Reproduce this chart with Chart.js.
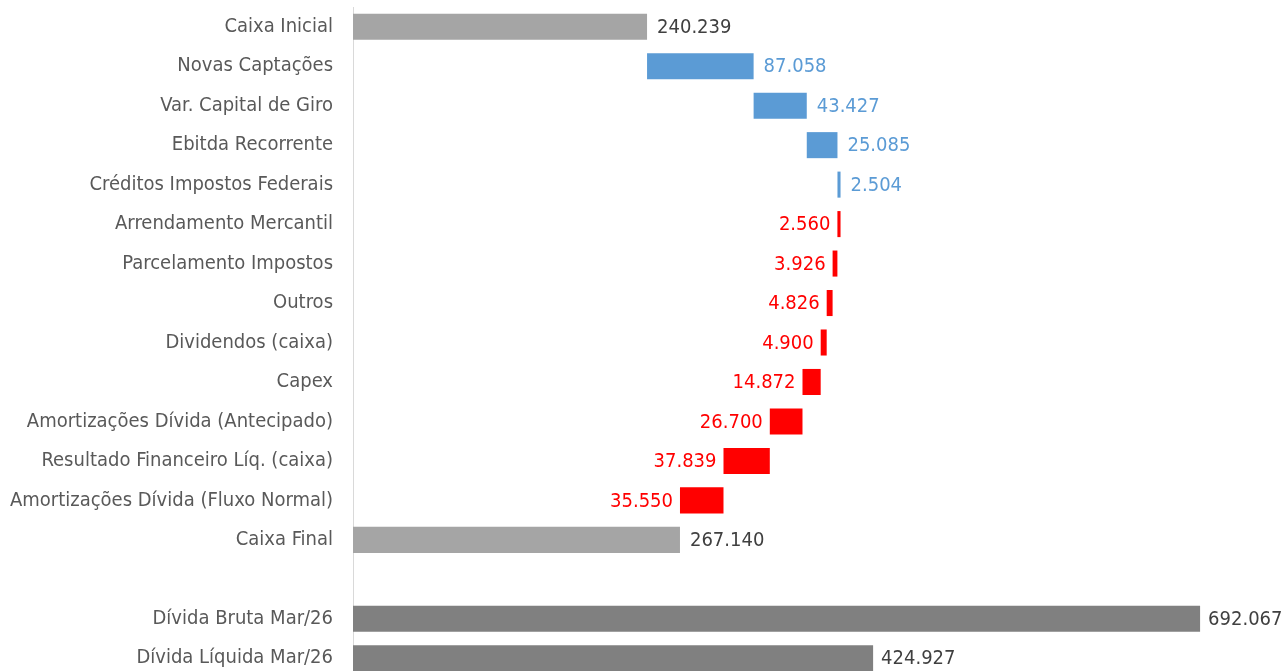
<!DOCTYPE html>
<html>
<head>
<meta charset="utf-8">
<script src="https://cdn.jsdelivr.net/npm/chart.js@4.4.1/dist/chart.umd.min.js"></script>
<style>
  html, body { margin: 0; padding: 0; background: #ffffff; overflow: hidden; }
  #wrap { width: 1282px; height: 671px; overflow: hidden; }
  canvas { display: block; }
</style>
</head>
<body>
<div id="wrap"><canvas id="c" width="1282" height="680"></canvas></div>
<script>
// ---- data ----
const categories = [
  'Caixa Inicial',
  'Novas Captações',
  'Var. Capital de Giro',
  'Ebitda Recorrente',
  'Créditos Impostos Federais',
  'Arrendamento Mercantil',
  'Parcelamento Impostos',
  'Outros',
  'Dividendos (caixa)',
  'Capex',
  'Amortizações Dívida (Antecipado)',
  'Resultado Financeiro Líq. (caixa)',
  'Amortizações Dívida (Fluxo Normal)',
  'Caixa Final',
  '',
  'Dívida Bruta Mar/26',
  'Dívida Líquida Mar/26'
];
const values = [240239, 87058, 43427, 25085, 2504, -2560, -3926, -4826, -4900, -14872, -26700, -37839, -35550, 267140, null, 692067, 424927];
const kinds  = ['total','up','up','up','up','down','down','down','down','down','down','down','down','total','gap','debt','debt'];

const barColors  = { total: '#A5A5A5', up: '#5B9BD5', down: '#FF0000', debt: '#808080', gap: 'rgba(0,0,0,0)' };
const textColors = { total: '#404040', up: '#5B9BD5', down: '#FF0000', debt: '#404040', gap: '#404040' };

// waterfall ranges built from the values
let running = 0;
const ranges = values.map((v, i) => {
  const k = kinds[i];
  if (v === null) return null;
  if (k === 'total') { running = v; return [0, v]; }
  if (k === 'debt') { return [0, v]; }
  const start = running; running += v; return [start, running];
});

function fmt(v) {
  const s = String(Math.abs(v));
  return s.replace(/\B(?=(\d{3})+(?!\d))/g, '.');
}

const FONT = "'Liberation Sans Narrow', 'DejaVu Sans Condensed', 'Liberation Sans', sans-serif";
const FSIZE = 20;

const labelPlugin = {
  id: 'valueLabels',
  afterDatasetsDraw(chart) {
    const ctx = chart.ctx;
    const meta = chart.getDatasetMeta(0);
    ctx.save();
    ctx.font = FSIZE + 'px ' + FONT;
    ctx.textBaseline = 'middle';
    meta.data.forEach((el, i) => {
      if (values[i] === null) return;
      const p = el.getProps(['x', 'y', 'base'], true);
      const left = Math.min(p.x, p.base), right = Math.max(p.x, p.base);
      ctx.fillStyle = textColors[kinds[i]];
      if (kinds[i] === 'down') {
        ctx.textAlign = 'right';
        ctx.fillText(fmt(values[i]), left - 7, p.y + 1);
      } else {
        ctx.textAlign = 'left';
        const gap = kinds[i] === 'debt' ? 8 : 10;
        ctx.fillText(fmt(values[i]), right + gap, p.y + 1);
      }
    });
    ctx.restore();
  }
};

new Chart(document.getElementById('c'), {
  type: 'bar',
  data: {
    labels: categories,
    datasets: [{
      data: ranges,
      backgroundColor: kinds.map(k => barColors[k]),
      borderWidth: 0,
      barPercentage: 0.66,
      categoryPercentage: 1.0
    }]
  },
  options: {
    indexAxis: 'y',
    responsive: false,
    animation: false,
    layout: { padding: { left: 0, right: 11, top: 7, bottom: 2 } },
    plugins: { legend: { display: false }, tooltip: { enabled: false } },
    scales: {
      x: { display: false, min: 0, max: 750000 },
      y: {
        grid: { display: true, color: 'rgba(0,0,0,0)', drawTicks: false },
        border: { display: true, color: '#D9D9D9', width: 1 },
        ticks: {
          autoSkip: false,
          padding: 20,
          color: '#595959',
          font: { family: FONT, size: FSIZE }
        },
        afterFit(scale) { scale.width = 353; scale.paddingTop = 0; scale.paddingBottom = 0; }
      }
    }
  },
  plugins: [labelPlugin]
});
</script>
</body>
</html>
